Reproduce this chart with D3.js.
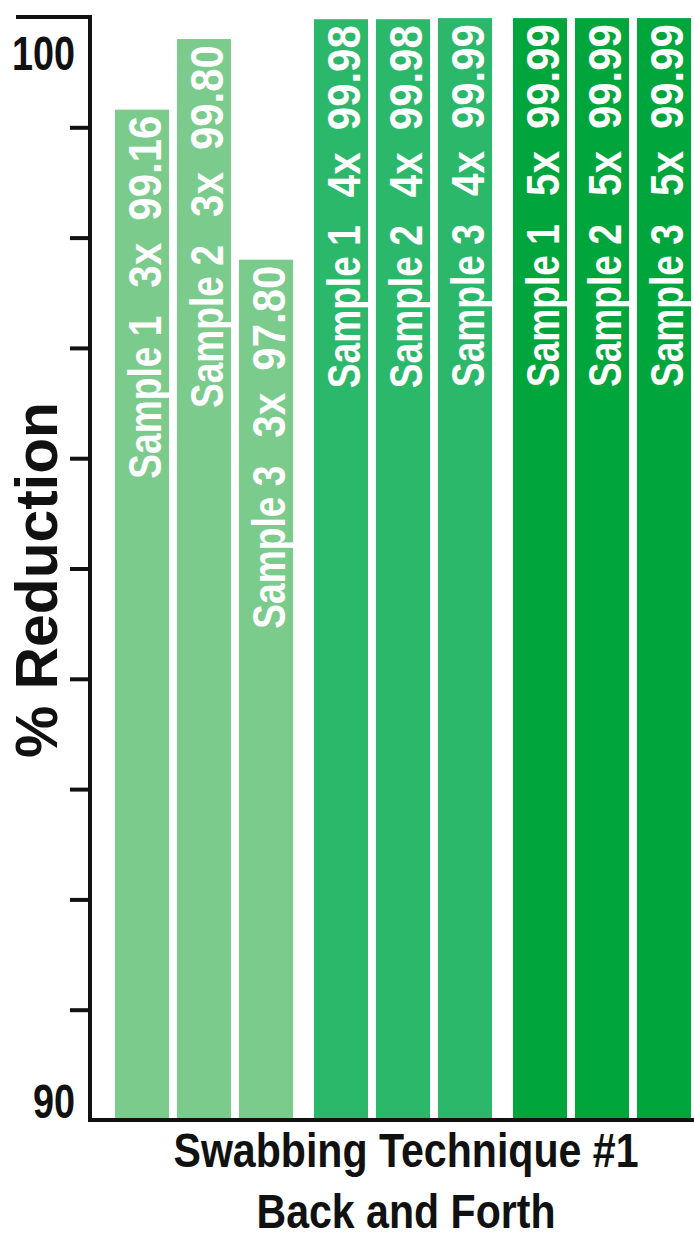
<!DOCTYPE html>
<html>
<head>
<meta charset="utf-8">
<script src="https://cdn.jsdelivr.net/npm/d3@7"></script>
<style>
  html, body { margin: 0; padding: 0; background: #fff; }
  svg { display: block; }
  /* condensed look: regular bold face squeezed with textLength */
  .cond { font-family: "Liberation Sans", Arial, sans-serif; font-weight: 700; }
</style>
</head>
<body>
<div id="chart"></div>
<script>
// ===== DATA =====
const groups = ['3x', '4x', '5x'];
const samples = ['Sample 1', 'Sample 2', 'Sample 3'];
const values3x = [99.16, 99.80, 97.80];
const values4x = [99.98, 99.98, 99.99];
const values5x = [99.99, 99.99, 99.99];
const groupColors = ['#7bcb8c', '#2cb86a', '#00a63c'];
const tickValues = [90, 91, 92, 93, 94, 95, 96, 97, 98, 99, 100];
const tickLabels = { 90: '90', 100: '100' };
const yTitle = '% Reduction';
const xTitle = ['Swabbing Technique #1', 'Back and Forth'];

const W = 694, H = 1235;
const axisX = 90;
const INK = '#111';

const rows = [values3x, values4x, values5x].flatMap((vals, gi) =>
  vals.map((v, si) => ({ group: groups[gi], sample: samples[si], value: v, color: groupColors[gi] })));

const svg = d3.select('#chart').append('svg')
  .attr('width', W)
  .attr('height', H);

// Scales
const y = d3.scaleLinear().domain([90, 100]).range([1120, 17]);
const xGroup = d3.scaleBand().domain(groups).range([115, 691]).paddingInner(21 / 199).paddingOuter(0);
const xSample = d3.scaleBand().domain(samples).range([0, xGroup.bandwidth()]).paddingInner(8 / 62).paddingOuter(0);

// Bars
const bar = svg.append('g').attr('class', 'bars')
  .selectAll('g')
  .data(rows)
  .join('g')
  .attr('transform', d => `translate(${xGroup(d.group) + xSample(d.sample)},0)`);

bar.append('rect')
  .attr('x', 0)
  .attr('y', d => y(d.value))
  .attr('width', xSample.bandwidth())
  .attr('height', d => y(90) - y(d.value))
  .attr('fill', d => d.color);

// Vertical labels inside bars (read bottom to top): sample, group, value
const fmt = d3.format('.2f');
const pieces = [
  { key: d => fmt(d.value), end: 0, len: 105 },
  { key: d => d.group, end: 127, len: 45 },
  { key: d => d.sample, end: 200, len: 163 },
];
const lbl = bar.append('g')
  .attr('transform', d => `translate(${xSample.bandwidth() / 2 + 19},${y(d.value) + 6}) rotate(-90)`);
pieces.forEach(p => {
  lbl.append('text')
    .attr('class', 'cond')
    .attr('x', -(p.end + p.len))
    .attr('font-size', 46)
    .attr('fill', '#fff')
    .attr('textLength', p.len)
    .attr('lengthAdjust', 'spacingAndGlyphs')
    .text(p.key);
});

// Y axis ticks
const axis = svg.append('g')
  .attr('transform', `translate(${axisX},0)`)
  .call(d3.axisLeft(y).tickValues(tickValues.slice(1, -1)).tickSize(20).tickFormat(''));
axis.select('.domain').remove();
axis.selectAll('.tick line').attr('stroke', INK).attr('stroke-width', 4);

svg.append('line')
  .attr('x1', axisX).attr('x2', axisX)
  .attr('y1', y(100) - 2).attr('y2', y(90) + 2)
  .attr('stroke', INK).attr('stroke-width', 4);
// top cap
svg.append('line')
  .attr('x1', 16).attr('x2', axisX + 2)
  .attr('y1', y(100)).attr('y2', y(100))
  .attr('stroke', INK).attr('stroke-width', 4);
// baseline
svg.append('line')
  .attr('x1', axisX - 2).attr('x2', W)
  .attr('y1', y(90)).attr('y2', y(90))
  .attr('stroke', INK).attr('stroke-width', 4);

// end labels (100 sits below the cap, 90 on the baseline)
const endLen = { 90: 42, 100: 63 };
svg.append('g').selectAll('text')
  .data(tickValues.filter(v => tickLabels[v]))
  .join('text')
  .attr('class', 'cond')
  .attr('x', d => 75 - endLen[d])
  .attr('y', d => d === 100 ? y(d) + 53 : y(d) - 2)
  .attr('font-size', 48)
  .attr('fill', INK)
  .attr('textLength', d => endLen[d])
  .attr('lengthAdjust', 'spacingAndGlyphs')
  .text(d => tickLabels[d]);

// Axis titles
svg.append('text')
  .attr('class', 'cond')
  .attr('transform', 'translate(57,758) rotate(-90)')
  .attr('x', 0)
  .attr('font-size', 60)
  .attr('fill', INK)
  .attr('textLength', 356)
  .attr('lengthAdjust', 'spacingAndGlyphs')
  .text(yTitle);

const titleLen = [465, 299];
svg.append('g').selectAll('text')
  .data(xTitle)
  .join('text')
  .attr('class', 'cond')
  .attr('x', (d, i) => 406 - titleLen[i] / 2)
  .attr('y', (d, i) => i ? 1228 : 1167)
  .attr('font-size', 49)
  .attr('fill', INK)
  .attr('textLength', (d, i) => titleLen[i])
  .attr('lengthAdjust', 'spacingAndGlyphs')
  .text(d => d);
</script>
</body>
</html>
